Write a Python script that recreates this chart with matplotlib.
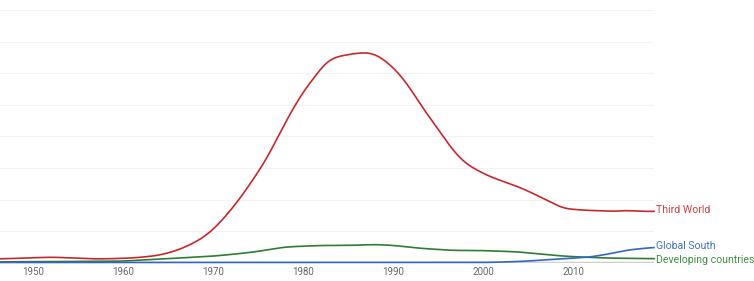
import numpy as np
import matplotlib.pyplot as plt

years_red = [1946, 1952, 1957, 1960, 1961.9, 1964.1, 1966.3, 1968.5, 1970, 1971.5, 1973,
             1974.4, 1975.9, 1977.4, 1978.7, 1980, 1981.5, 1982.4, 1983.3, 1985.2,
             1986.9, 1988.2, 1990.1, 1991.5, 1993.4, 1995.3, 1996.7, 1998.2, 1999.6,
             2001.1, 2002.6, 2004.8, 2007.1, 2008.9, 2010.1, 2011.9, 2013.7, 2014.4,
             2015.9, 2017.4, 2019]
third_world = [0.12, 0.18, 0.12, 0.14, 0.17, 0.24, 0.42, 0.72, 1.04, 1.51, 2.04,
               2.62, 3.26, 4.1, 4.8, 5.42, 5.96, 6.34, 6.5, 6.6,
               6.67, 6.6, 6.17, 5.7, 4.85, 4.12, 3.52, 3.1, 2.89,
               2.68, 2.55, 2.3, 1.98, 1.71, 1.69, 1.65, 1.65, 1.61,
               1.67, 1.62, 1.63]

years_green = [1946, 1960, 1961.9, 1964.9, 1967.4, 1970, 1972.2, 1974.8, 1977.6, 1979.4,
               1982.2, 1985.2, 1988, 1990.1, 1992.9, 1996.7, 1999.6, 2003.7,
               2006.3, 2008.9, 2011.1, 2013.7, 2019]
developing = [0.03, 0.05, 0.09, 0.13, 0.17, 0.21, 0.27, 0.35, 0.49, 0.52,
              0.55, 0.55, 0.58, 0.55, 0.46, 0.39, 0.39, 0.35,
              0.28, 0.21, 0.18, 0.15, 0.13]

years_blue = [1946, 1990, 2000, 2001.8, 2004.8, 2007.1, 2010.1, 2011.9, 2014.4, 2015.9, 2019]
global_south = [0.01, 0.01, 0.01, 0.02, 0.05, 0.1, 0.15, 0.18, 0.3, 0.4, 0.49]

xticks = [1950, 1960, 1970, 1980, 1990, 2000, 2010]

plt.rcParams['font.family'] = ['Roboto', 'DejaVu Sans']

fig = plt.figure(figsize=(7.54, 2.81), dpi=100)
ax = fig.add_axes([0, 0.0648, 654 / 754, 0.8996])


def smooth(x, y):
    # resample then gaussian-smooth to get the soft curve look
    xs = np.linspace(x[0], x[-1], 800)
    ys = np.interp(xs, x, y)
    t = np.arange(-30, 31)
    k = np.exp(-0.5 * (t / 8.0) ** 2)
    k /= k.sum()
    pad = np.pad(ys, 30, mode='edge')
    return xs, np.convolve(pad, k, mode='valid')


red_c = '#c8282d'
green_c = '#2e7d32'
blue_c = '#3366cc'

ax.plot(*smooth(years_red, third_world), color=red_c, lw=1.2, clip_on=False)
ax.plot(*smooth(years_green, developing), color=green_c, lw=1.2, clip_on=False)
ax.plot(*smooth(years_blue, global_south), color=blue_c, lw=1.2, clip_on=False)

ax.set_xlim(1946.3, 2019.0)
ax.set_ylim(0, 8)
ax.set_yticks(range(0, 9))
ax.set_yticklabels([])
ax.grid(axis='y', color='#f2f2f2', lw=0.8)
ax.axhline(0, color='#cccccc', lw=2.5, zorder=0)
ax.set_xticks(xticks)
ax.set_xticklabels([str(t) for t in xticks], fontsize=7, color='#666666')
ax.tick_params(axis='both', length=0, pad=3)
for s in ax.spines.values():
    s.set_visible(False)

ax.text(2019.2, third_world[-1] + 0.05, 'Third World', color='#d04040',
        fontsize=7.6, va='center', ha='left', clip_on=False)
ax.text(2019.2, global_south[-1] + 0.05, 'Global South', color='#4472c4',
        fontsize=7.6, va='center', ha='left', clip_on=False)
ax.text(2019.2, developing[-1] - 0.05, 'Developing countries', color='#3f8f3f',
        fontsize=7.6, va='center', ha='left', clip_on=False)

fig.savefig('out.png', dpi=100)
